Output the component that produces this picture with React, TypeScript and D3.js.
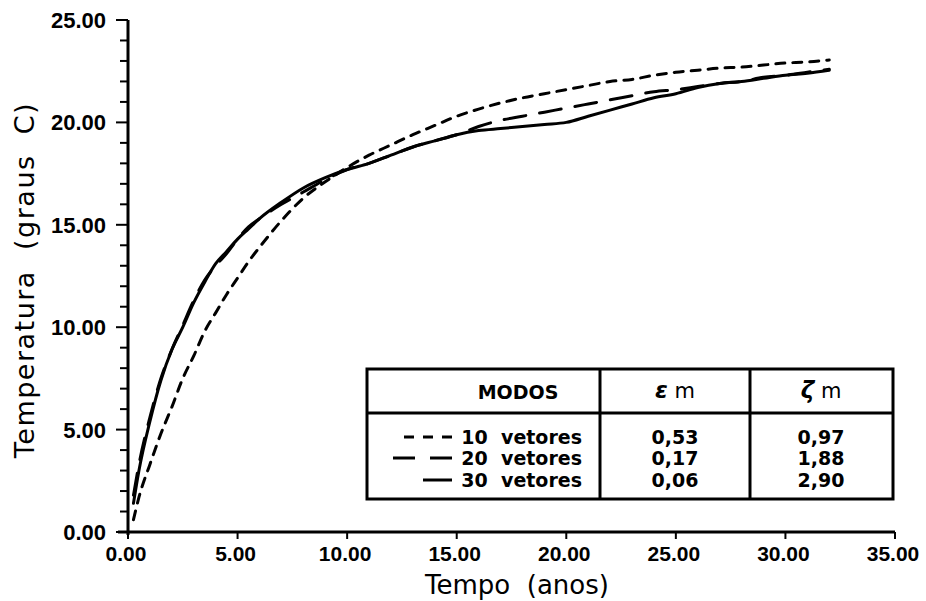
import React from "react";
import * as d3 from "d3";

const tempo = [0.25, 0.5, 1, 1.5, 2, 2.5, 3, 3.5, 4, 4.5, 5, 5.5, 6, 7, 8, 9, 10, 11, 12, 13, 14, 15, 16, 17, 18, 19, 20, 21, 22, 23, 24, 25, 26, 27, 28, 29, 30, 31, 32];
const vet10 = [0.6, 1.7, 3.3, 4.8, 6.1, 7.5, 8.6, 9.8, 10.7, 11.6, 12.4, 13.2, 13.9, 15.2, 16.3, 17.1, 17.8, 18.4, 18.9, 19.4, 19.85, 20.3, 20.65, 20.95, 21.2, 21.4, 21.6, 21.8, 22.0, 22.1, 22.3, 22.45, 22.55, 22.65, 22.7, 22.8, 22.9, 22.95, 23.05];
const vet20 = [1.8, 3.3, 5.6, 7.5, 8.9, 10.1, 11.3, 12.3, 13.0, 13.6, 14.3, 14.9, 15.3, 16.0, 16.6, 17.2, 17.7, 18.0, 18.4, 18.8, 19.1, 19.4, 19.8, 20.1, 20.3, 20.5, 20.7, 20.9, 21.1, 21.3, 21.5, 21.6, 21.75, 21.9, 22.0, 22.2, 22.3, 22.45, 22.6];
const vet30 = [1.4, 3.0, 5.4, 7.4, 8.9, 10.0, 11.2, 12.2, 13.1, 13.7, 14.3, 14.8, 15.3, 16.1, 16.8, 17.3, 17.7, 18.0, 18.4, 18.8, 19.1, 19.4, 19.6, 19.7, 19.8, 19.9, 20.0, 20.3, 20.6, 20.9, 21.2, 21.4, 21.7, 21.9, 22.0, 22.15, 22.3, 22.4, 22.55];

const xTicks = [0, 5, 10, 15, 20, 25, 30, 35];
const yTicks = [0, 5, 10, 15, 20, 25];
const yMinor = d3.range(0, 26, 1);

const modos = ["10  vetores", "20  vetores", "30  vetores"];
const epsM = ["0,53", "0,17", "0,06"];
const zetaM = ["0,97", "1,88", "2,90"];
const dashes = ["9,8", "22,14", ""];

export default function App() {
  const x = d3.scaleLinear().domain([0, 35]).range([128, 895]);
  const y = d3.scaleLinear().domain([0, 25]).range([532, 20]);
  const line = d3
    .line<[number, number]>()
    .x((d) => x(d[0]))
    .y((d) => y(d[1]))
    .curve(d3.curveMonotoneX);
  const series = [vet10, vet20, vet30];
  const font = "'DejaVu Sans', sans-serif";
  const tickFont = "'Liberation Sans', Arial, sans-serif";

  const tl = 367, tr = 893, tt = 369, tb = 499, th = 413, c1 = 600, c2 = 750;
  const rowY = [444, 465, 487];

  return (
    <svg width={926} height={601} style={{ position: "absolute", left: 0, top: 0, background: "#fff" }}>
      <rect x={0} y={0} width={926} height={601} fill="#fff" />
      {series.map((s, i) => (
        <path
          key={i}
          d={line(tempo.map((t, j) => [t, s[j]] as [number, number])) || ""}
          fill="none"
          stroke="#000"
          strokeWidth={3}
          strokeDasharray={dashes[i] || undefined}
          strokeLinecap="round"
        />
      ))}
      <line x1={x(0)} x2={x(0)} y1={y(0) + 3} y2={y(25)} stroke="#000" strokeWidth={3} />
      <line x1={x(0) - 10} x2={x(35)} y1={y(0)} y2={y(0)} stroke="#000" strokeWidth={3} />
      {yMinor.map((v) => (
        <line key={"m" + v} x1={x(0) - (v % 5 === 0 ? 12 : 8)} x2={x(0)} y1={y(v)} y2={y(v)} stroke="#000" strokeWidth={2} />
      ))}
      {xTicks.map((v) => (
        <g key={"x" + v}>
          <line x1={x(v)} x2={x(v)} y1={y(0)} y2={y(0) + 7} stroke="#000" strokeWidth={2} />
          <text x={x(v) - 2} y={561} textAnchor="middle" fontFamily={tickFont} fontWeight="bold" fontSize={21}>
            {v.toFixed(2)}
          </text>
        </g>
      ))}
      {yTicks.map((v) => (
        <text key={"y" + v} x={106} y={y(v) + 8} textAnchor="end" fontFamily={tickFont} fontWeight="bold" fontSize={22}>
          {v.toFixed(2)}
        </text>
      ))}
      <text x={517} y={594} textAnchor="middle" fontFamily={font} fontSize={26} style={{ whiteSpace: "pre" }}>
        {"Tempo  (anos)"}
      </text>
      <text
        transform="translate(34,280) rotate(-90)"
        textAnchor="middle"
        fontFamily={font}
        fontSize={27}
        letterSpacing={1.5}
        style={{ whiteSpace: "pre" }}
      >
        {"Temperatura  (graus  C)"}
      </text>
      <rect x={tl} y={tt} width={tr - tl} height={tb - tt} fill="#fff" stroke="#000" strokeWidth={3} />
      <line x1={tl} x2={tr} y1={th} y2={th} stroke="#000" strokeWidth={3} />
      <line x1={c1} x2={c1} y1={tt} y2={tb} stroke="#000" strokeWidth={3} />
      <line x1={c2} x2={c2} y1={tt} y2={tb} stroke="#000" strokeWidth={3} />
      <text x={518} y={399} textAnchor="middle" fontFamily={font} fontWeight="bold" fontSize={19}>
        MODOS
      </text>
      <text x={675} y={398} textAnchor="middle" fontFamily={font} fontSize={21} fontWeight="bold" style={{ whiteSpace: "pre" }}>
        <tspan fontStyle="italic" fontSize={23}>ε</tspan>
        <tspan fontWeight="normal">{" m"}</tspan>
      </text>
      <text x={821} y={398} textAnchor="middle" fontFamily={font} fontSize={21} fontWeight="bold" style={{ whiteSpace: "pre" }}>
        <tspan fontStyle="italic" fontSize={23}>ζ</tspan>
        <tspan fontWeight="normal">{" m"}</tspan>
      </text>
      {modos.map((m, i) => (
        <g key={"r" + i}>
          <line
            x1={i === 0 ? 404 : i === 1 ? 393 : 423}
            x2={452}
            y1={rowY[i] - 7}
            y2={rowY[i] - 7}
            stroke="#000"
            strokeWidth={3}
            strokeDasharray={i === 0 ? "10,9" : i === 1 ? "22,15" : undefined}
          />
          <text x={582} y={rowY[i]} textAnchor="end" fontFamily={font} fontWeight="bold" fontSize={19} style={{ whiteSpace: "pre" }}>
            {m}
          </text>
          <text x={675} y={rowY[i]} textAnchor="middle" fontFamily={font} fontWeight="bold" fontSize={19}>
            {epsM[i]}
          </text>
          <text x={821} y={rowY[i]} textAnchor="middle" fontFamily={font} fontWeight="bold" fontSize={19}>
            {zetaM[i]}
          </text>
        </g>
      ))}
    </svg>
  );
}
